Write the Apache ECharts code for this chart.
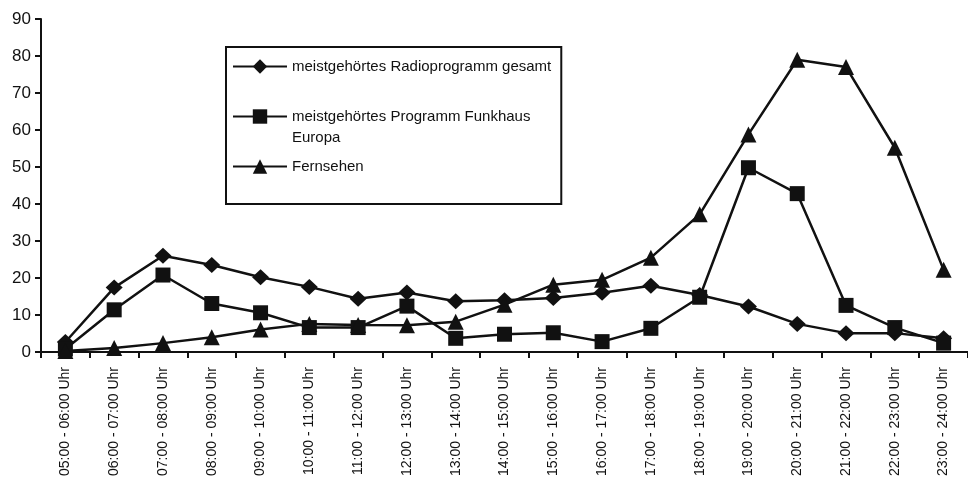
<!DOCTYPE html>
<html>
<head>
<meta charset="utf-8">
<script src="https://cdn.jsdelivr.net/npm/echarts@6/dist/echarts.min.js"></script>
<style>
  html, body { margin: 0; padding: 0; background: #fff; }
  #chart { width: 968px; height: 486px; }
</style>
</head>
<body>
<div id="chart"></div>
<script>
// Hour slots of the day
const categories = [
  '05:00 - 06:00 Uhr', '06:00 - 07:00 Uhr', '07:00 - 08:00 Uhr', '08:00 - 09:00 Uhr',
  '09:00 - 10:00 Uhr', '10:00 - 11:00 Uhr', '11:00 - 12:00 Uhr', '12:00 - 13:00 Uhr',
  '13:00 - 14:00 Uhr', '14:00 - 15:00 Uhr', '15:00 - 16:00 Uhr', '16:00 - 17:00 Uhr',
  '17:00 - 18:00 Uhr', '18:00 - 19:00 Uhr', '19:00 - 20:00 Uhr', '20:00 - 21:00 Uhr',
  '21:00 - 22:00 Uhr', '22:00 - 23:00 Uhr', '23:00 - 24:00 Uhr'
];

// Share per hour slot
const radioGesamt = [2.7, 17.4, 26, 23.5, 20.2, 17.6, 14.4, 16.1, 13.7, 14, 14.6, 16, 17.9, 15.4, 12.3, 7.6, 5.1, 5.1, 3.7];
const funkhausEuropa = [0.8, 11.4, 20.8, 13.1, 10.6, 6.6, 6.6, 12.4, 3.7, 4.8, 5.2, 2.8, 6.4, 14.8, 49.8, 42.8, 12.6, 6.6, 2.4];
const fernsehen = [0.3, 1.1, 2.4, 4, 6.1, 7.6, 7.3, 7.2, 8.2, 12.8, 18.2, 19.5, 25.5, 37.2, 58.8, 79, 77, 55.2, 22.2];

const yTicks = { min: 0, max: 90, interval: 10 };

const seriesNames = [
  'meistgehörtes Radioprogramm gesamt',
  'meistgehörtes Programm Funkhaus\nEuropa',
  'Fernsehen'
];

const FONT = '"Liberation Sans", Arial, sans-serif';
const INK = '#111';

function lineSeries(name, data, symbol, size) {
  return {
    name: name,
    type: 'line',
    data: data,
    symbol: symbol,
    symbolSize: size,
    showAllSymbol: true,
    lineStyle: { color: INK, width: 2.5 },
    itemStyle: { color: INK, borderColor: INK, borderWidth: 0 },
    emphasis: { disabled: true },
    animation: false
  };
}

const chart = echarts.init(document.getElementById('chart'), null, { renderer: 'canvas' });
chart.setOption({
  backgroundColor: '#fff',
  animation: false,
  textStyle: { fontFamily: FONT, color: INK },
  grid: { left: 41, top: 19, bottom: 134, right: -8, containLabel: false },
  legend: {
    orient: 'vertical',
    left: 226,
    top: 47,
    padding: [9, 10, 27, 6],
    itemGap: 8,
    itemWidth: 54,
    itemHeight: 18,
    borderColor: INK,
    borderWidth: 2,
    textStyle: { fontFamily: FONT, fontSize: 15, color: INK, lineHeight: 21 },
    // a leading blank line keeps the marker beside the first line of a wrapped entry
    formatter: function (name) {
      return name.indexOf('\n') >= 0 ? '\n' + name : name;
    },
    data: seriesNames
  },
  xAxis: {
    type: 'category',
    data: categories,
    boundaryGap: true,
    axisLine: { lineStyle: { color: INK, width: 2 } },
    axisTick: { show: true, length: 6, lineStyle: { color: INK, width: 2 } },
    axisLabel: {
      rotate: 90,
      interval: 0,
      margin: 15,
      fontFamily: FONT,
      fontSize: 14,
      color: INK
    },
    splitLine: { show: false }
  },
  yAxis: {
    type: 'value',
    min: yTicks.min,
    max: yTicks.max,
    interval: yTicks.interval,
    axisLine: { show: true, lineStyle: { color: INK, width: 2 } },
    axisTick: { show: true, length: 6, lineStyle: { color: INK, width: 2 } },
    axisLabel: { fontFamily: FONT, fontSize: 17, color: INK, margin: 10 },
    splitLine: { show: false }
  },
  series: [
    lineSeries(seriesNames[0], radioGesamt, 'diamond', [17, 16]),
    lineSeries(seriesNames[1], funkhausEuropa, 'rect', 15),
    lineSeries(seriesNames[2], fernsehen, 'triangle', 16)
  ]
});
</script>
</body>
</html>
